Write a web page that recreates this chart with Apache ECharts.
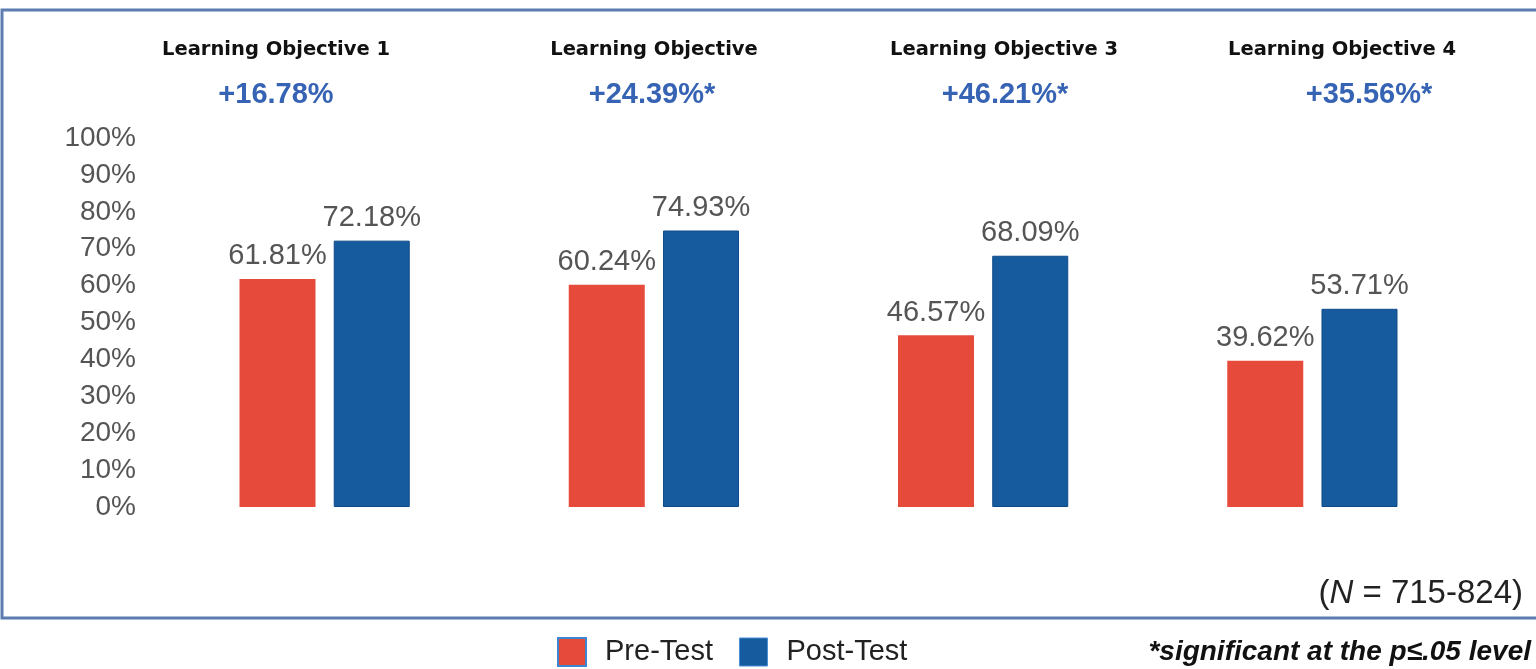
<!DOCTYPE html>
<html>
<head>
<meta charset="utf-8">
<script src="https://cdn.jsdelivr.net/npm/echarts@6/dist/echarts.min.js"></script>
<style>
html,body{margin:0;padding:0;background:#fff;}
#chart{width:1536px;height:669px;}
</style>
</head>
<body>
<div id="chart"></div>
<script>
const categories = ['Learning Objective 1', 'Learning Objective', 'Learning Objective 3', 'Learning Objective 4'];
const preTest = [61.81, 60.24, 46.57, 39.62];
const postTest = [72.18, 74.93, 68.09, 53.71];
const changes = ['+16.78%', '+24.39%*', '+46.21%*', '+35.56%*'];
const seriesNames = ['Pre-Test', 'Post-Test'];
const sampleNote = '(N = 715-824)';
const footnote = '*significant at the p\u2264.05 level';

const chart = echarts.init(document.getElementById('chart'));

const titleX = [276, 654, 1004, 1342];
const changeX = [276, 652, 1005, 1369];
const graphics = [
  { type: 'rect', shape: { x: 2, y: 10, width: 1560, height: 608 },
    style: { fill: 'none', stroke: '#5b7db0', lineWidth: 3 }, z: 0 }
];
categories.forEach((c, i) => {
  graphics.push({ type: 'text', x: titleX[i], y: 50,
    style: { text: c, font: 'bold 19.5px "DejaVu Sans"', fill: '#111', align: 'center', verticalAlign: 'middle' } });
  graphics.push({ type: 'text', x: changeX[i], y: 95,
    style: { text: changes[i], font: 'bold 29px "Liberation Sans"', fill: '#3663b3', align: 'center', verticalAlign: 'middle' } });
});
graphics.push({ type: 'text', x: 1523, y: 594,
  style: { text: '({i|N} = 715-824)', font: '33px "Liberation Sans"', fill: '#222', align: 'right', verticalAlign: 'middle',
    rich: { i: { font: 'italic 33px "Liberation Sans"', fill: '#222' } } } });
graphics.push({ type: 'text', x: 1531, y: 652,
  style: { text: footnote, font: 'italic bold 28px "Liberation Sans"', fill: '#111', align: 'right', verticalAlign: 'middle' } });

const labelStyle = { show: true, position: 'top', distance: 8, fontSize: 29, color: '#555', fontFamily: 'Liberation Sans',
  formatter: p => p.value.toFixed(2) + '%' };

chart.setOption({
  animation: false,
  backgroundColor: '#fff',
  grid: { left: 160, right: 59, top: 138, bottom: 162, containLabel: false },
  legend: {
    left: 552, top: 632,
    itemWidth: 28, itemHeight: 28, itemGap: 26,
    icon: 'rect',
    textStyle: { fontSize: 29, color: '#222', fontFamily: 'Liberation Sans', padding: [0, 0, 0, 14] },
    data: [
      { name: seriesNames[0], itemStyle: { borderColor: '#3d86d0', borderWidth: 2 } },
      { name: seriesNames[1], itemStyle: { borderColor: '#4a8fd6', borderWidth: 1 } }
    ]
  },
  xAxis: {
    type: 'category', data: categories,
    axisLine: { show: false }, axisTick: { show: false }, axisLabel: { show: false }, splitLine: { show: false }
  },
  yAxis: {
    type: 'value', min: 0, max: 100, interval: 10,
    axisLine: { show: false }, axisTick: { show: false }, splitLine: { show: false },
    axisLabel: { formatter: '{value}%', fontSize: 28, color: '#555', fontFamily: 'Liberation Sans', margin: 24 }
  },
  series: [
    { name: seriesNames[0], type: 'bar', data: preTest, barWidth: 76, barGap: '24%',
      itemStyle: { color: '#e64a3b' }, label: labelStyle },
    { name: seriesNames[1], type: 'bar', data: postTest, barWidth: 76,
      itemStyle: { color: '#175b9f', borderColor: '#0f4a88', borderWidth: 1 }, label: labelStyle }
  ],
  graphic: graphics
});
</script>
</body>
</html>
